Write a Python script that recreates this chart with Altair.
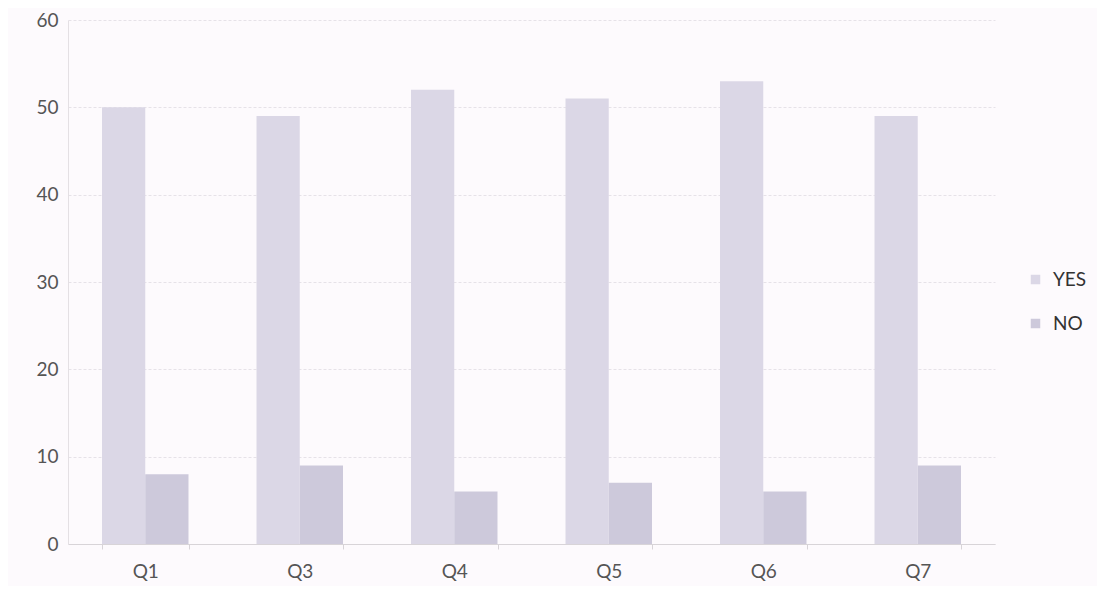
import altair as alt
import pandas as pd

questions = ["Q1", "Q3", "Q4", "Q5", "Q6", "Q7"]
yes_values = [50, 49, 52, 51, 53, 49]
no_values = [8, 9, 6, 7, 6, 9]
series = ["YES", "NO"]
colors = ["#dbd7e6", "#cdc9db"]

rows = []
for q, y, n in zip(questions, yes_values, no_values):
    rows.append({"question": q, "answer": "YES", "count": y})
    rows.append({"question": q, "answer": "NO", "count": n})
df = pd.DataFrame(rows)

chart = alt.Chart(df).mark_bar().encode(
    x=alt.X("question:N", sort=questions, title=None,
            scale=alt.Scale(paddingInner=0.44, paddingOuter=0.22),
            axis=alt.Axis(labelAngle=0, labelFontSize=19, labelColor="#555555",
                          labelPadding=13, tickBand="extent", tickSize=5,
                          tickColor="#d8d4d8", domainColor="#d8d4d8", grid=False,
                          labelFont="Lato")),
    xOffset=alt.XOffset("answer:N", sort=series, scale=alt.Scale(paddingInner=0)),
    y=alt.Y("count:Q", title=None,
            scale=alt.Scale(domain=[0, 60]),
            axis=alt.Axis(values=[0, 10, 20, 30, 40, 50, 60], labelFontSize=19,
                          labelColor="#555555", labelPadding=10, tickSize=0,
                          domain=True, domainColor="#e4e0e4", gridColor="#e6e2e8",
                          gridDash=[3, 2], labelFont="Lato")),
    color=alt.Color("answer:N", sort=series,
                    scale=alt.Scale(domain=series, range=colors),
                    legend=alt.Legend(title=None, orient="none", legendX=958, legendY=250,
                                      symbolType="square", symbolSize=90,
                                      labelFontSize=19, labelColor="#333333",
                                      labelFont="Lato", rowPadding=24,
                                      labelOffset=8, symbolStrokeWidth=0)),
).properties(
    width=927, height=524,
    background="#fdfafd",
    padding={"left": 27, "top": 3, "right": 10, "bottom": 5},
).configure_view(stroke=None)

chart.save("out.html", embed_options={"renderer": "svg", "actions": False})
